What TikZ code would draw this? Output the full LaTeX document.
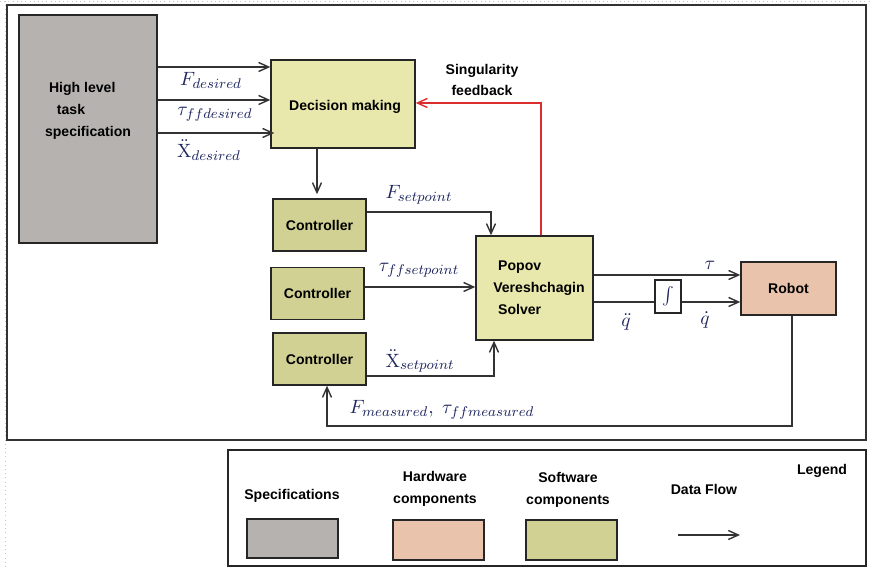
\documentclass[tikz,border=0pt]{standalone}
\usepackage[no-math]{fontspec}
\setmainfont{Liberation Sans}
\usetikzlibrary{arrows.meta}

\begin{document}
\begin{tikzpicture}[x=0.02cm, y=-0.02cm, >={Straight Barb[length=2mm,width=1.8mm]}]
    \definecolor{specgray}{RGB}{181,178,176}
    \definecolor{hwpeach}{RGB}{234,195,172}
    \definecolor{swolive}{RGB}{208,209,146}
    \definecolor{dmyellow}{RGB}{232,231,172}
    \definecolor{mathblue}{RGB}{30,38,95}
    \definecolor{fbred}{RGB}{220,45,45}
    \tikzset{
      block/.style={draw=black!85, line width=0.8pt, inner sep=0pt,
        font=\fontsize{8}{9.6}\selectfont\bfseries},
      specbox/.style={block, fill=specgray},
      hwbox/.style={block, fill=hwpeach},
      swbox/.style={block, fill=swolive},
      dmbox/.style={block, fill=dmyellow},
      ctrlbox/.style={swbox, minimum width=1.86cm, minimum height=1.04cm},
      flow/.style={->, draw=black!80, line width=0.8pt},
      sig/.style={text=mathblue, inner sep=0pt, font=\fontsize{11}{13}\selectfont},
      lbl/.style={inner sep=0pt, align=center, font=\fontsize{8}{12.5}\selectfont\bfseries},
    }
    \useasboundingbox (0,0) rectangle (873,570);

    % page edge and frames
    \draw[gray!45, dotted] (0,1) -- (873,1);
    \draw[gray!45, dotted] (5,1) -- (5,570);
    \draw[black!80, line width=1pt] (7,5) rectangle (866,440);
    \draw[black!85, line width=0.8pt] (228,450) rectangle (866,566);

    % blocks
    \node[specbox, minimum width=2.76cm, minimum height=4.56cm] (spec) at (88,129) {};
    \node[lbl, align=left] (spectext) at (88,111)
      {\hspace{2.3pt}High level\\\hspace{6.8pt}task\\specification};
    \node[dmbox, minimum width=2.88cm, minimum height=1.76cm] (dm) at (343,104) {};
    \node[lbl] (dmtext) at (345,107) {Decision making};
    \node[ctrlbox] (ctrlA) at (319.5,225) {Controller};
    \node[ctrlbox] (ctrlB) at (317.5,293.5) {Controller};
    \node[ctrlbox] (ctrlC) at (319.5,359) {Controller};
    \node[dmbox, minimum width=2.34cm, minimum height=2.08cm] (solver) at (534.5,288) {};
    \node[lbl, align=left] (solvertext) at (539,288)
      {\hspace{2.8pt}Popov\\Vereshchagin\\\hspace{2.8pt}Solver};
    \node[hwbox, minimum width=1.9cm, minimum height=1.06cm] (robot) at (788.5,288.5) {Robot};
    \node[draw=black!85, line width=0.8pt, fill=white, minimum width=0.52cm,
      minimum height=0.66cm, inner sep=0pt, text=mathblue] (integ) at (668,296.5) {$\int$};

    % desired values into decision making
    \draw[flow] (spec.east |- 0,67) -- (dm.west |- 0,67);
    \draw[flow] (spec.east |- 0,100) -- (dm.west |- 0,100);
    \draw[flow] (spec.east |- 0,133) -- ([xshift=0.08cm]dm.west |- 0,133);
    \node[sig] (fdes) at (211,80) {$F_{desired}$};
    \node[sig] (taudes) at (215,114) {$\tau_{ffdesired}$};
    \node[sig] (xdes) at (209,150) {$\ddot{\mathrm{X}}_{desired}$};

    % decision making to first controller
    \draw[flow] (dm.south -| 317,0) -- ([yshift=0.08cm]ctrlA.north -| 317,0);

    % setpoints into the solver
    \draw[flow] (ctrlA.east |- 0,212) -| (solver.north -| 491,0);
    \draw[flow] (ctrlB.east |- 0,287) -- (solver.west |- 0,287);
    \draw[flow] (ctrlC.east |- 0,376) -| (solver.south -| 494,0);
    \node[sig] (fset) at (419,195) {$F_{setpoint}$};
    \node[sig] (tauset) at (419,270) {$\tau_{ffsetpoint}$};
    \node[sig] (xset) at (420,361) {$\ddot{\mathrm{X}}_{setpoint}$};

    % singularity feedback
    \draw[flow, draw=fbred] (solver.north -| 541,0) |- (dm.east |- 0,103);
    \node[lbl] (singtext) at (482,80) {Singularity\\feedback};

    % solver outputs to the robot
    \draw[flow] (solver.east |- 0,275) -- (robot.west |- 0,275);
    \draw[draw=black!80, line width=0.8pt] (solver.east |- 0,302) -- (integ.west |- 0,302);
    \draw[flow] (integ.east |- 0,302) -- (robot.west |- 0,302);
    \node[sig] (tauout) at (710,265) {$\tau$};
    \node[sig] (qdd) at (626,322) {$\ddot{q}$};
    \node[sig] (qd) at (705,320) {$\dot{q}$};

    % measured values back to the controller
    \coordinate (fbcorner) at (792,426);
    \draw[flow] (robot.south -| 792,0) -- (fbcorner) -| (ctrlC.south -| 327,0);
    \node[sig] (meas) at (442,410) {$F_{measured},\ \tau_{ffmeasured}$};

    % legend
    \node[lbl] (legtitle) at (822,471) {Legend};
    \node[lbl] (legspec) at (292,496) {Specifications};
    \node[lbl] (leghw) at (435,489) {Hardware\\components};
    \node[lbl] (legsw) at (568,490) {Software\\components};
    \node[lbl] (legflow) at (704,489) {Data Flow};
    \node[specbox, minimum width=1.82cm, minimum height=0.78cm] (specsample) at (292.5,538.5) {};
    \node[hwbox, minimum width=1.82cm, minimum height=0.8cm] (hwsample) at (438.5,540) {};
    \node[swbox, minimum width=1.82cm, minimum height=0.8cm] (swsample) at (571.5,540) {};
    \coordinate (flowA) at (678,535);
    \coordinate (flowB) at (740,535);
    \draw[flow] (flowA) -- (flowB);
\end{tikzpicture}
\end{document}
